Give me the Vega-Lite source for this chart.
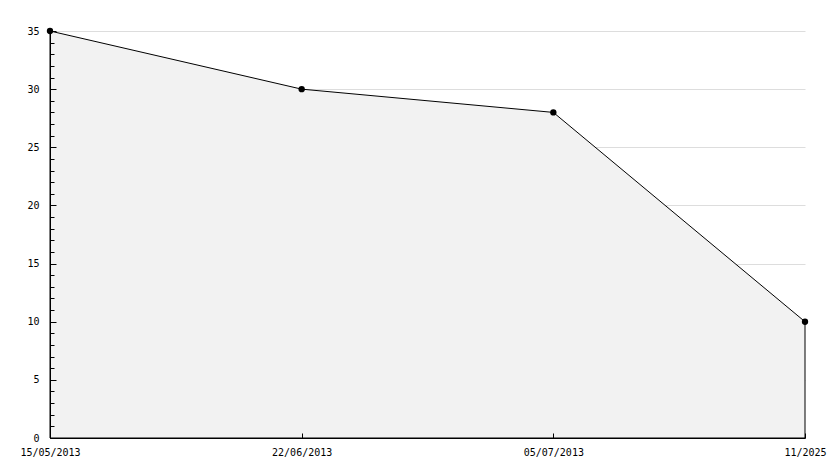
{
  "$schema": "https://vega.github.io/schema/vega-lite/v6.json",
  "width": 755,
  "height": 407,
  "autosize": {"type": "none"},
  "padding": {"left": 50, "top": 31, "right": 29, "bottom": 30},
  "background": "white",
  "config": {
    "view": {"stroke": null},
    "axis": {"labelFont": "DejaVu Sans Mono", "labelFontSize": 10, "labelColor": "#000", "domainColor": "#000", "tickColor": "#000"}
  },
  "data": {
    "values": [
      {"date": "15/05/2013", "value": 35},
      {"date": "22/06/2013", "value": 30},
      {"date": "05/07/2013", "value": 28},
      {"date": "11/2025", "value": 10}
    ]
  },
  "encoding": {
    "x": {
      "field": "date", "type": "ordinal", "sort": null,
      "scale": {"type": "point", "padding": 0},
      "axis": {"title": null, "labelAngle": 0, "tickSize": -5, "labelPadding": 14, "domainWidth": 1, "grid": false, "zindex": 1}
    }
  },
  "layer": [
    {
      "mark": {"type": "area", "fill": "#f2f2f2", "stroke": "#000", "strokeWidth": 1},
      "encoding": {
        "y": {
          "field": "value", "type": "quantitative",
          "scale": {"domain": [0, 35], "nice": false},
          "axis": {"orient": "left", "title": null, "values": [5, 10, 15, 20, 25, 30, 35], "labels": false, "ticks": false, "domain": false, "grid": true, "gridColor": "#dddddd", "gridWidth": 1, "zindex": 0}
        }
      }
    },
    {
      "mark": {"type": "point", "filled": true, "color": "#000", "size": 40, "opacity": 1},
      "encoding": {
        "y": {
          "field": "value", "type": "quantitative",
          "scale": {"domain": [0, 35], "nice": false},
          "axis": {"orient": "left", "title": null, "values": [0, 5, 10, 15, 20, 25, 30, 35], "tickSize": -6, "labelPadding": 17, "grid": false, "domainWidth": 1, "zindex": 1}
        }
      }
    },
    {
      "mark": {"type": "point", "filled": true, "color": "#000", "size": 40, "opacity": 0},
      "encoding": {
        "y": {
          "field": "value", "type": "quantitative",
          "scale": {"domain": [0, 35], "nice": false},
          "axis": {"orient": "left", "title": null, "values": [1,2,3,4,6,7,8,9,11,12,13,14,16,17,18,19,21,22,23,24,26,27,28,29,31,32,33,34], "labels": false, "tickSize": -4, "grid": false, "domain": false, "zindex": 1}
        }
      }
    }
  ],
  "resolve": {"axis": {"y": "independent"}}
}
